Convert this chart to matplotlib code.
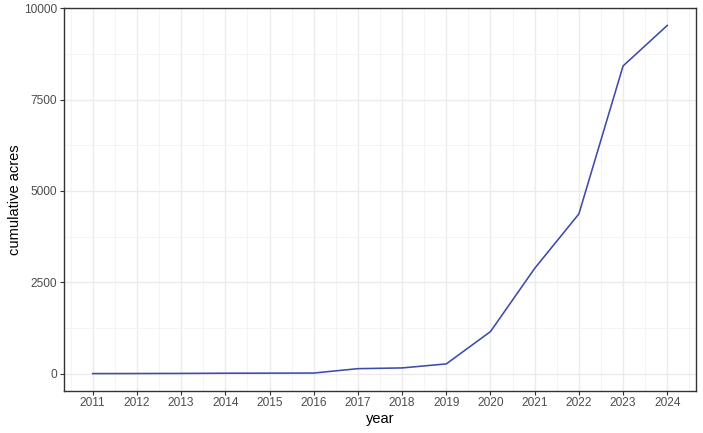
import matplotlib.pyplot as plt
from matplotlib.ticker import MultipleLocator

plt.rcParams['font.family'] = ['Liberation Sans', 'DejaVu Sans']

years = [2011, 2012, 2013, 2014, 2015, 2016, 2017, 2018, 2019, 2020, 2021, 2022, 2023, 2024]
acres = [0, 2, 5, 10, 12, 15, 135, 155, 265, 1150, 2880, 4370, 8420, 9530]

fig = plt.figure(figsize=(7.03, 4.33), dpi=100)
ax = fig.add_axes([64 / 703, 1 - 391 / 433, 632 / 703, 383 / 433])

ax.plot(years, acres, color='#3F4BA8', linewidth=1.15, zorder=3)

ax.set_xlim(2011 - 0.65, 2024 + 0.65)
ax.set_ylim(-476.5, 10006.5)
ax.set_xticks(years)
ax.set_yticks([0, 2500, 5000, 7500, 10000])
ax.xaxis.set_minor_locator(MultipleLocator(0.5))
ax.yaxis.set_minor_locator(MultipleLocator(1250))

ax.grid(True, which='major', color='#EBEBEB', linewidth=1.0)
ax.grid(True, which='minor', color='#F3F3F3', linewidth=0.6)
ax.set_axisbelow(True)

for s in ax.spines.values():
    s.set_color('#333333')
    s.set_linewidth(1.0)

ax.tick_params(which='major', length=2.9, color='#333333', labelsize=8.6, labelcolor='#4D4D4D')
ax.tick_params(axis='x', which='major', pad=1.5)
ax.tick_params(axis='y', which='major', pad=2.2)
ax.tick_params(which='minor', length=0)

ax.set_xlabel('year', fontsize=10.5)
ax.set_ylabel('cumulative acres', fontsize=10.5)
ax.xaxis.set_label_coords(0.5, -0.055)
ax.yaxis.set_label_coords(-0.0672, 0.5)

fig.savefig('out.png', dpi=100)
